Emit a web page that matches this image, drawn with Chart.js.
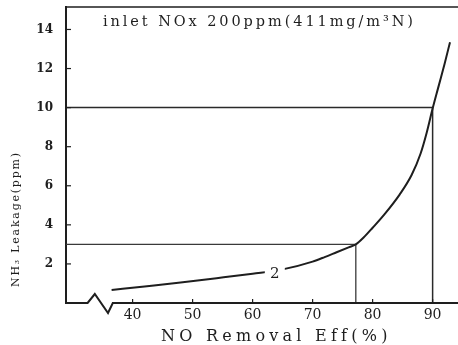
<!DOCTYPE html>
<html><head><meta charset="utf-8">
<script src="https://cdn.jsdelivr.net/npm/chart.js@4.4.1/dist/chart.umd.min.js"></script>
<style>html,body{margin:0;padding:0;background:#fff;overflow:hidden}#wrap{width:458px;height:345px}</style>
</head><body><div id="wrap"><canvas id="c" width="458" height="345"></canvas></div>
<script>
// ---- data ----
const effPct  = [36.5, 42, 48, 54, 60, 65, 70, 72, 74, 76, 77.2, 78.5, 80, 82, 84.5, 86.5, 88, 89, 90, 91, 92, 92.9];
const nh3Slip = [0.67, 0.85, 1.05, 1.27, 1.5, 1.72, 2.12, 2.35, 2.6, 2.85, 3.0, 3.35, 3.85, 4.55, 5.55, 6.55, 7.65, 8.7, 9.95, 11.1, 12.25, 13.35];
const xTicks = [40, 50, 60, 70, 80, 90];
const yTicks = [2, 4, 6, 8, 10, 12, 14];
const xMin = 28.9, xMax = 94.23, yMin = 0, yMax = 15.15;
const guideHighX = [xMin, 90, 90], guideHighY = [10, 10, 0];
const guideLowX  = [xMin, 77.2, 77.2], guideLowY = [3, 3, 0];
const breakX = [32.5, 33.7, 35.9, 36.7], breakY = [0, 0.46, -0.51, 0];
const curveLabel = {text: '2', x: 63.7, y: 1.55};
const titleText = 'inlet NOx 200ppm(411mg/m\u00B3N)';
const xTitle = 'NO Removal Eff(%)';
const yTitle = 'NH\u2083 Leakage(ppm)';

const ink = '#1e1e1e';
const pts = (xs, ys) => xs.map((x, i) => ({x, y: ys[i]}));

function spacedText(ctx, text, font, cx, cy, target, rot) {
  ctx.save();
  ctx.font = font;
  ctx.letterSpacing = '0px';
  const w = ctx.measureText(text).width;
  const n = [...text].length;
  const sp = Math.max(0, (target - w) / (n - 1));
  ctx.letterSpacing = sp + 'px';
  ctx.translate(cx, cy);
  if (rot) ctx.rotate(rot);
  ctx.textAlign = 'left';
  ctx.textBaseline = 'middle';
  ctx.fillStyle = ink;
  ctx.fillText(text, -target / 2, 0);
  ctx.restore();
}

const decor = {
  id: 'decor',
  afterDraw(chart) {
    const {ctx, chartArea: a, scales: {x, y}} = chart;
    ctx.save();
    ctx.strokeStyle = ink;
    ctx.lineCap = 'butt';
    // top frame line
    ctx.lineWidth = 1.5;
    ctx.beginPath(); ctx.moveTo(a.left - 1, a.top); ctx.lineTo(a.right, a.top); ctx.stroke();
    // bottom axis with break symbol
    ctx.lineWidth = 2;
    ctx.beginPath();
    ctx.moveTo(a.left - 1, y.getPixelForValue(0));
    breakX.forEach((bx, i) => ctx.lineTo(x.getPixelForValue(bx), y.getPixelForValue(breakY[i])));
    ctx.lineTo(a.right, y.getPixelForValue(0));
    ctx.stroke();
    // inward ticks
    ctx.lineWidth = 1.2;
    yTicks.forEach(v => {
      const py = y.getPixelForValue(v);
      ctx.beginPath(); ctx.moveTo(a.left, py); ctx.lineTo(a.left + 5, py); ctx.stroke();
    });
    xTicks.forEach(v => {
      const px = x.getPixelForValue(v);
      ctx.beginPath(); ctx.moveTo(px, a.bottom); ctx.lineTo(px, a.bottom - 4); ctx.stroke();
    });
    // curve label
    const lx = x.getPixelForValue(curveLabel.x), ly = y.getPixelForValue(curveLabel.y);
    ctx.fillStyle = '#fff';
    ctx.fillRect(lx - 10, ly - 8, 20, 16);
    ctx.fillStyle = ink;
    ctx.font = '15px "DejaVu Serif"';
    ctx.textAlign = 'center'; ctx.textBaseline = 'middle';
    ctx.fillText(curveLabel.text, lx, ly + 1);
    ctx.restore();
    // texts
    spacedText(ctx, titleText, '14.5px "DejaVu Serif"', 258, 22, 310, 0);
    spacedText(ctx, xTitle, '16px "DejaVu Serif"', 274, 337, 226, 0);
    spacedText(ctx, yTitle, '11px "DejaVu Serif"', 16.5, 220, 134, -Math.PI / 2);
  }
};

new Chart(document.getElementById('c'), {
  type: 'scatter',
  data: {
    datasets: [
      {data: pts(effPct, nh3Slip), showLine: true, borderColor: ink, borderWidth: 2, pointRadius: 0, cubicInterpolationMode: 'monotone', clip: false},
      {data: pts(guideHighX, guideHighY), showLine: true, borderColor: '#2a2a2a', borderWidth: 1.5, pointRadius: 0, tension: 0},
      {data: pts(guideLowX, guideLowY), showLine: true, borderColor: '#3a3a3a', borderWidth: 1.3, pointRadius: 0, tension: 0}
    ]
  },
  options: {
    responsive: false,
    animation: false,
    devicePixelRatio: 1,
    layout: {padding: {top: 7, left: 0, right: 0, bottom: 0}},
    plugins: {legend: {display: false}, tooltip: {enabled: false}},
    scales: {
      x: {
        type: 'linear', min: xMin, max: xMax,
        afterBuildTicks: s => { s.ticks = xTicks.map(v => ({value: v})); },
        afterFit: s => { s.height = 42; s.paddingLeft = 0; s.paddingRight = 0; },
        grid: {display: false, drawTicks: false},
        border: {display: false},
        ticks: {color: ink, padding: 4, font: {family: 'DejaVu Serif', size: 14}}
      },
      y: {
        type: 'linear', min: yMin, max: yMax,
        afterBuildTicks: s => { s.ticks = yTicks.map(v => ({value: v})); },
        afterFit: s => { s.width = 66; s.paddingTop = 0; s.paddingBottom = 0; },
        grid: {display: false, drawTicks: false},
        border: {display: true, color: ink, width: 2},
        ticks: {color: ink, padding: 13, font: {family: 'DejaVu Serif', size: 12, weight: 'bold'}}
      }
    }
  },
  plugins: [decor]
});
</script>
</body></html>
